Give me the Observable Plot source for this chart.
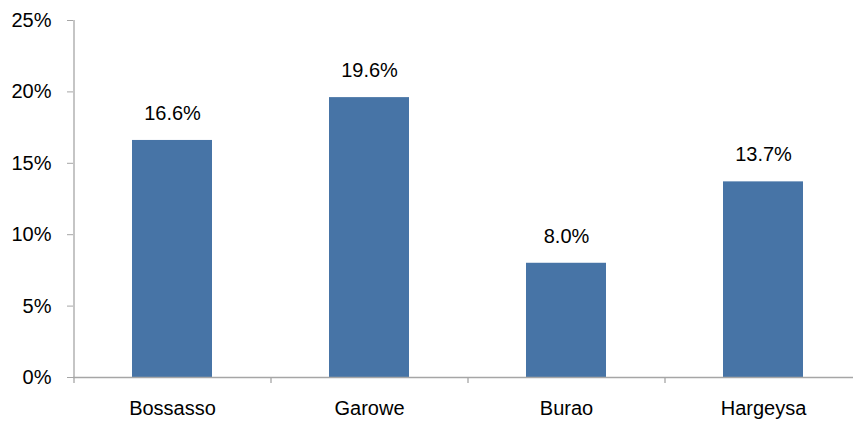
<!DOCTYPE html>
<html>
<head>
<meta charset="utf-8">
<script src="https://cdn.jsdelivr.net/npm/d3@7"></script>
<script src="https://cdn.jsdelivr.net/npm/@observablehq/plot@0.6"></script>
<style>
  html, body { margin: 0; padding: 0; background: #fff; }
  #chart svg { display: block; }
</style>
</head>
<body>
<div id="chart"></div>
<script>
const cities = ["Bossasso", "Garowe", "Burao", "Hargeysa"];
const shares = [16.6, 19.6, 8.0, 13.7];
const yTicks = [0, 5, 10, 15, 20, 25];

const data = cities.map((c, i) => ({city: c, value: shares[i]}));

const W = 853, H = 421;
const left = 73, right = 861;
const step = (right - left) / cities.length;
const axisColor = "#a6a6a6";
const font = "'Liberation Sans', Arial, sans-serif";

const chart = Plot.plot({
  width: W,
  height: H,
  marginTop: 20,
  marginBottom: 44,
  marginLeft: left,
  marginRight: 0,
  style: {fontFamily: font, fontSize: "20px", color: "#000", background: "#fff"},
  x: {domain: cities, range: [left, right], paddingInner: 0.594, paddingOuter: 0.297, label: null},
  y: {domain: [0, 25], ticks: yTicks, label: null},
  marks: [
    Plot.barY(data, {x: "city", y: "value", fill: "#4774a6"}),
    Plot.ruleY([0], {stroke: axisColor, strokeWidth: 1.3}),
    Plot.ruleX([cities[0]], {x: d => d, dx: -step / 2, y1: 0, y2: 25, stroke: axisColor, strokeWidth: 1.3}),
    Plot.ruleX(cities, {x: d => d, dx: -step / 2, y1: 0, y2: 0, insetBottom: -6, stroke: axisColor, strokeWidth: 1.3}),
    Plot.text(data, {x: "city", y: "value", text: d => d.value.toFixed(1) + "%", dy: -27, fontSize: 20, fill: "#000"}),
    Plot.axisY({ticks: yTicks, tickFormat: d => d + "%", tickSize: 6, tickPadding: 16, stroke: axisColor, fontSize: 20, fill: "#000"}),
    Plot.axisX({tickSize: 0, tickPadding: 23, fontSize: 20, fill: "#000"})
  ]
});
document.getElementById("chart").appendChild(chart);
</script>
</body>
</html>
